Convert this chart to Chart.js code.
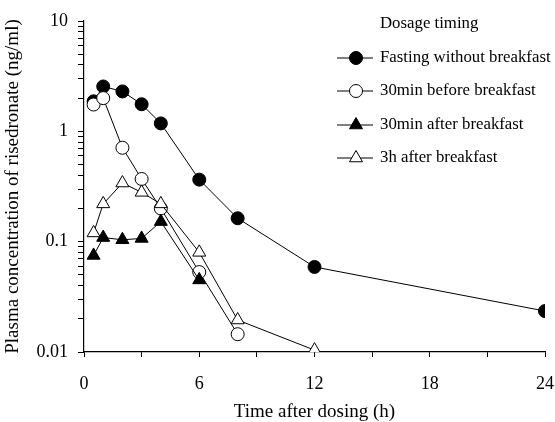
<!DOCTYPE html>
<html>
<head>
<meta charset="utf-8">
<script src="https://cdn.jsdelivr.net/npm/chart.js@4.4.0/dist/chart.umd.min.js"></script>
<style>
html, body { margin: 0; padding: 0; background: #fff; }
</style>
</head>
<body>
<canvas id="chart" width="555" height="422"></canvas>
<script>
// Dosage timing groups, time (h) vs plasma concentration (ng/ml)
const fastingTimes = [0.5, 1, 2, 3, 4, 6, 8, 12, 24];
const fastingConc = [1.87, 2.55, 2.3, 1.76, 1.18, 0.365, 0.163, 0.059, 0.0235];
const beforeTimes = [0.5, 1, 2, 3, 4, 6, 8];
const beforeConc = [1.75, 2.0, 0.71, 0.37, 0.2, 0.053, 0.0145];
const afterTimes = [0.5, 1, 2, 3, 4, 6];
const afterConc = [0.075, 0.109, 0.104, 0.107, 0.152, 0.045];
const lateTimes = [0.5, 1, 2, 3, 4, 6, 8, 12];
const lateConc = [0.12, 0.22, 0.34, 0.28, 0.22, 0.08, 0.0195, 0.0104];

const seriesNames = ['Fasting without breakfast', '30min before breakfast', '30min after breakfast', '3h after breakfast'];
const legendTitle = 'Dosage timing';
const xLabelTicks = [0, 6, 12, 18, 24];
const yLabelTicks = [0.01, 0.1, 1, 10];

const FONT = 'Liberation Serif';

function toPoints(xs, ys) {
    return xs.map((x, i) => ({ x: x, y: ys[i] }));
}

function makeSet(label, xs, ys, style, filled, radius, order) {
    return {
        label: label,
        data: toPoints(xs, ys),
        borderColor: '#000',
        borderWidth: 1,
        pointStyle: style,
        pointRadius: radius,
        pointBorderWidth: 1,
        pointBorderColor: '#000',
        pointBackgroundColor: filled ? '#000' : '#fff',
        tension: 0,
        order: order
    };
}

const datasets = [
    makeSet(seriesNames[0], fastingTimes, fastingConc, 'circle', true, 6.5, 4),
    makeSet(seriesNames[1], beforeTimes, beforeConc, 'circle', false, 6.5, 3),
    makeSet(seriesNames[2], afterTimes, afterConc, 'triangle', true, 7.5, 2),
    makeSet(seriesNames[3], lateTimes, lateConc, 'triangle', false, 7.5, 1)
];

// Legend drawn inside the plot, top right
const insideLegend = {
    id: 'insideLegend',
    afterDraw(chart) {
        const ctx = chart.ctx;
        ctx.save();
        ctx.font = '16.8px "' + FONT + '"';
        ctx.fillStyle = '#000';
        ctx.textBaseline = 'middle';
        ctx.fillText(legendTitle, 380, 24);
        const rows = [58, 91, 125, 158];
        chart.data.datasets.forEach((ds, i) => {
            const y = rows[i];
            ctx.strokeStyle = '#000';
            ctx.lineWidth = 1;
            ctx.beginPath();
            ctx.moveTo(337, y);
            ctx.lineTo(373, y);
            ctx.stroke();
            ctx.fillStyle = ds.pointBackgroundColor;
            Chart.helpers.drawPoint(ctx, {
                pointStyle: ds.pointStyle,
                radius: ds.pointRadius,
                rotation: 0,
                borderWidth: 1
            }, 356, y);
            ctx.fillStyle = '#000';
            ctx.fillText(ds.label, 380, y);
        });
        ctx.restore();
    }
};

const ctx = document.getElementById('chart').getContext('2d');
const chart = new Chart(ctx, {
    type: 'line',
    data: { datasets: datasets },
    options: {
        responsive: false,
        animation: false,
        layout: { padding: { top: 21, right: 10, bottom: 0, left: 0 } },
        plugins: {
            legend: { display: false },
            tooltip: { enabled: false }
        },
        scales: {
            x: {
                type: 'linear',
                min: 0,
                max: 24,
                afterBuildTicks: (scale) => {
                    const t = [];
                    for (let v = 0; v <= 24; v += 3) t.push({ value: v });
                    scale.ticks = t;
                },
                afterFit: (scale) => {
                    scale.height = 70;
                    scale.paddingLeft = 0;
                    scale.paddingRight = 0;
                },
                grid: { drawOnChartArea: false, drawTicks: true, tickLength: 5, color: '#000' },
                border: { display: true, color: '#000', width: 1.2 },
                ticks: {
                    autoSkip: false,
                    maxRotation: 0,
                    padding: 16,
                    color: '#000',
                    font: { family: FONT, size: 18 },
                    callback: (v) => xLabelTicks.includes(v) ? String(v) : ''
                },
                title: {
                    display: true,
                    text: 'Time after dosing (h)',
                    color: '#000',
                    font: { family: FONT, size: 19, lineHeight: 1 },
                    padding: { top: 0, bottom: 0 }
                }
            },
            y: {
                type: 'logarithmic',
                min: 0.01,
                max: 10,
                afterBuildTicks: (scale) => {
                    const t = [];
                    for (let k = -2; k <= 0; k++) {
                        for (let m = 1; m <= 9; m++) {
                            t.push({ value: Number((m * Math.pow(10, k)).toPrecision(3)) });
                        }
                    }
                    t.push({ value: 10 });
                    scale.ticks = t;
                },
                afterFit: (scale) => { scale.width = 84; },
                grid: { drawOnChartArea: false, drawTicks: true, tickLength: 6, color: '#000' },
                border: { display: true, color: '#000', width: 1.2 },
                ticks: {
                    autoSkip: false,
                    padding: 10,
                    color: '#000',
                    font: { family: FONT, size: 18 },
                    callback: (v) => yLabelTicks.includes(v) ? String(v) : ''
                },
                title: {
                    display: true,
                    text: 'Plasma concentration of risedronate (ng/ml)',
                    color: '#000',
                    font: { family: FONT, size: 19, lineHeight: 1.2 },
                    padding: { top: 2, bottom: 0 }
                }
            }
        }
    },
    plugins: [insideLegend]
});
</script>
</body>
</html>
